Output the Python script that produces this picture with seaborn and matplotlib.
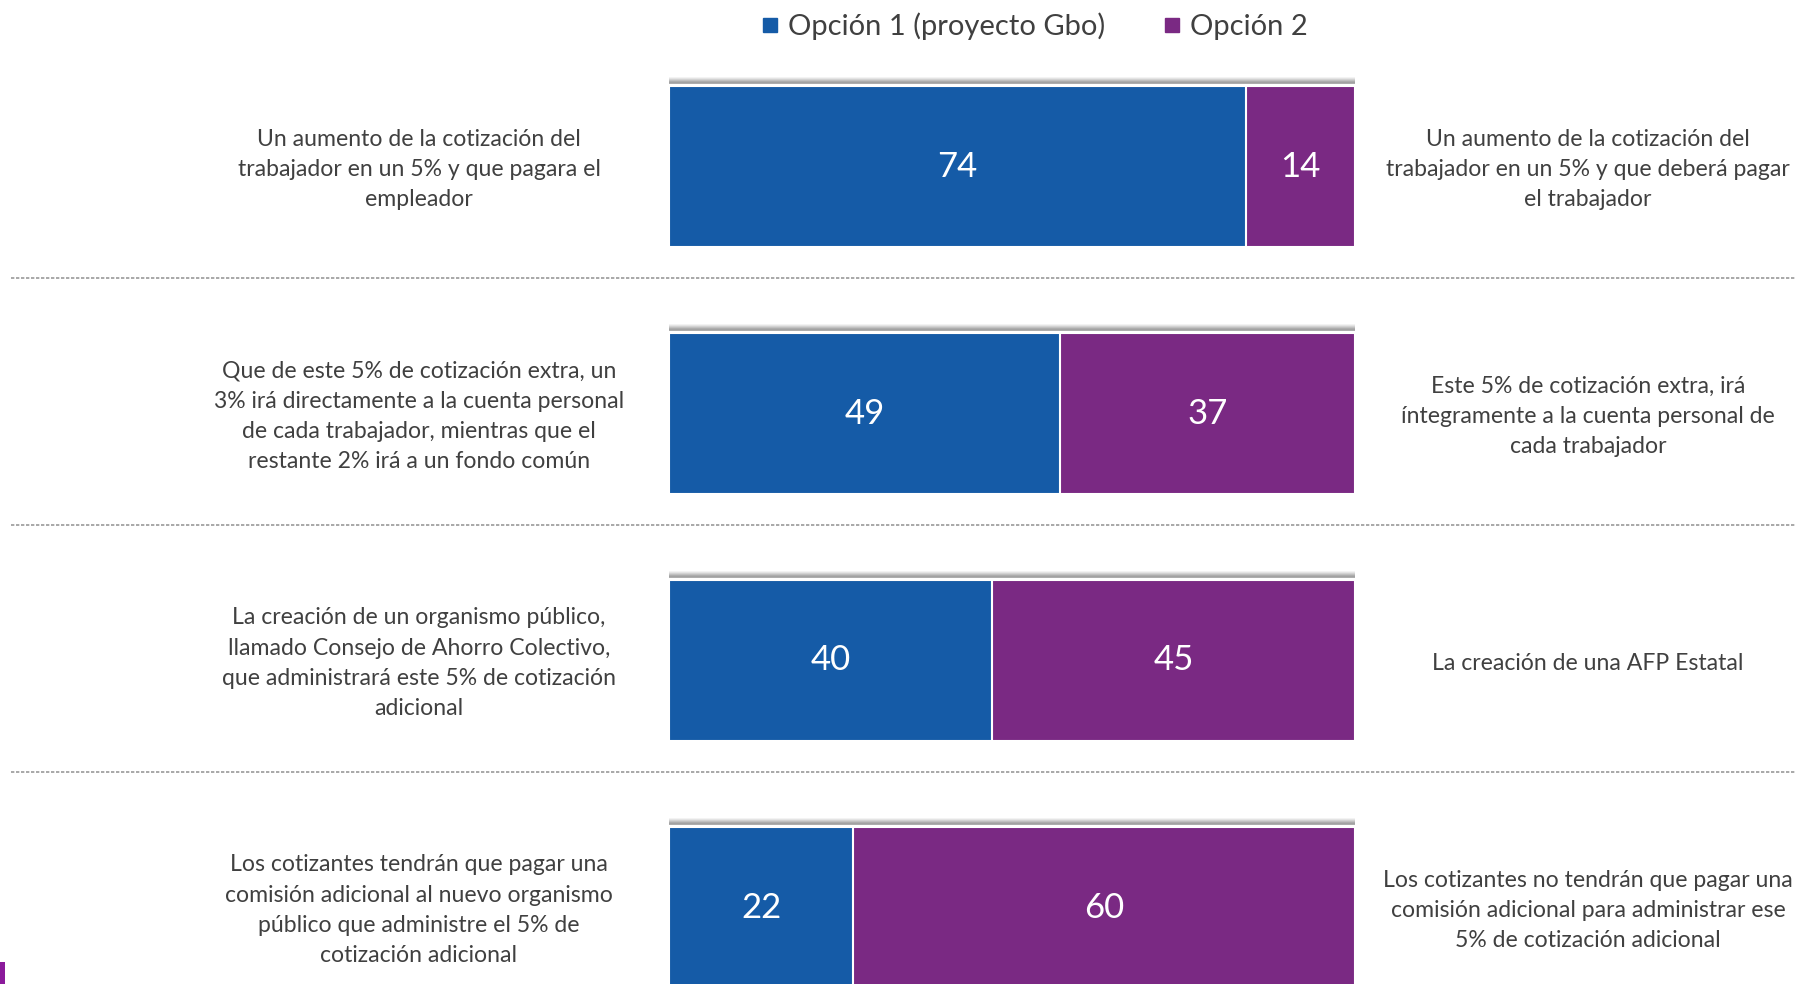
import numpy as np
import pandas as pd
import matplotlib.pyplot as plt
import seaborn as sns
from matplotlib.lines import Line2D
from matplotlib.patches import Rectangle
from matplotlib.transforms import blended_transform_factory

# data
items = ["Cotización empleador", "Destino 5%", "Organismo", "Comisión"]
opcion1 = [74, 49, 40, 22]
opcion2 = [14, 37, 45, 60]

left_texts = [
    "Un aumento de la cotización del\ntrabajador en un 5% y que pagara el\nempleador",
    "Que de este 5% de cotización extra, un\n3% irá directamente a la cuenta personal\nde cada trabajador, mientras que el\nrestante 2% irá a un fondo común",
    "La creación de un organismo público,\nllamado Consejo de Ahorro Colectivo,\nque administrará este 5% de cotización\nadicional",
    "Los cotizantes tendrán que pagar una\ncomisión adicional al nuevo organismo\npúblico que administre el 5% de\ncotización adicional",
]
right_texts = [
    "Un aumento de la cotización del\ntrabajador en un 5% y que deberá pagar\nel trabajador",
    "Este 5% de cotización extra, irá\níntegramente a la cuenta personal de\ncada trabajador",
    "La creación de una AFP Estatal",
    "Los cotizantes no tendrán que pagar una\ncomisión adicional para administrar ese\n5% de cotización adicional",
]
legend_labels = ["Opción 1 (proyecto Gbo)", "Opción 2"]

BLUE = "#155BA7"
PURPLE = "#7A2983"
TXT = "#404040"

sns.set_theme(style="white")
plt.rcParams["font.family"] = ["Lato", "DejaVu Sans"]

df = pd.DataFrame({"item": items, "o1": opcion1, "o2": opcion2})
df["total"] = df["o1"] + df["o2"]
df["s1"] = df["o1"] / df["total"] * 100
df["full"] = 100.0

fig = plt.figure(figsize=(17.96, 9.84), dpi=100)
ax = fig.add_axes([669 / 1796, 0, 686 / 1796, 1])

bar_h = 0.652
# shadow strip above each bar
px = 1 / 247
for i in range(len(items)):
    top = i - bar_h / 2
    for k, a in enumerate([0.55, 0.62, 0.55, 0.42, 0.3, 0.18, 0.08]):
        ax.barh(top - (2 + k) * px, 100, height=px, left=0, color="#6a6a6a",
                alpha=a, linewidth=0)

sns.barplot(data=df, x="full", y="item", orient="h", color=PURPLE, width=bar_h,
            edgecolor="white", linewidth=1.5, saturation=1, ax=ax)
sns.barplot(data=df, x="s1", y="item", orient="h", color=BLUE, width=bar_h,
            edgecolor="white", linewidth=1.5, saturation=1, ax=ax)

ax.set_xlim(0, 100)
ax.set_ylim((984 - 166.5) / 247, -166.5 / 247)
ax.axis("off")

for i, row in df.iterrows():
    ax.text(row["s1"] / 2, i, f"{row['o1']}", ha="center", va="center",
            color="white", fontsize=25)
    ax.text(row["s1"] + (100 - row["s1"]) / 2, i, f"{row['o2']}", ha="center",
            va="center", color="white", fontsize=25)

trans = blended_transform_factory(fig.transFigure, ax.transData)
for i in range(len(items)):
    ax.text(419 / 1796, i + 0.012, left_texts[i], transform=trans, ha="center",
            va="center", color=TXT, fontsize=16.6, linespacing=1.55, clip_on=False)
    ax.text(1588 / 1796, i + 0.012, right_texts[i], transform=trans, ha="center",
            va="center", color=TXT, fontsize=16.6, linespacing=1.55, clip_on=False)

for i in range(len(items) - 1):
    ax.plot([11 / 1796, 1], [i + 0.452, i + 0.452], transform=trans,
            color="#9a9a9a", lw=1.2, ls=(0, (2, 1)), clip_on=False)

handles = [Line2D([], [], marker="s", ls="", color=c, markersize=10)
           for c in [BLUE, PURPLE]]
fig.legend(handles, legend_labels, loc="center", bbox_to_anchor=(1033 / 1796, 1 - 26 / 984),
           ncol=2, frameon=False, fontsize=21, handletextpad=0.2,
           columnspacing=1.9, labelcolor=TXT, handlelength=0.8)

fig.add_artist(Rectangle((0, 0), 5 / 1796, 22 / 984, transform=fig.transFigure,
                         color="#8B1A9B", lw=0))

fig.savefig("out.png", dpi=100)
